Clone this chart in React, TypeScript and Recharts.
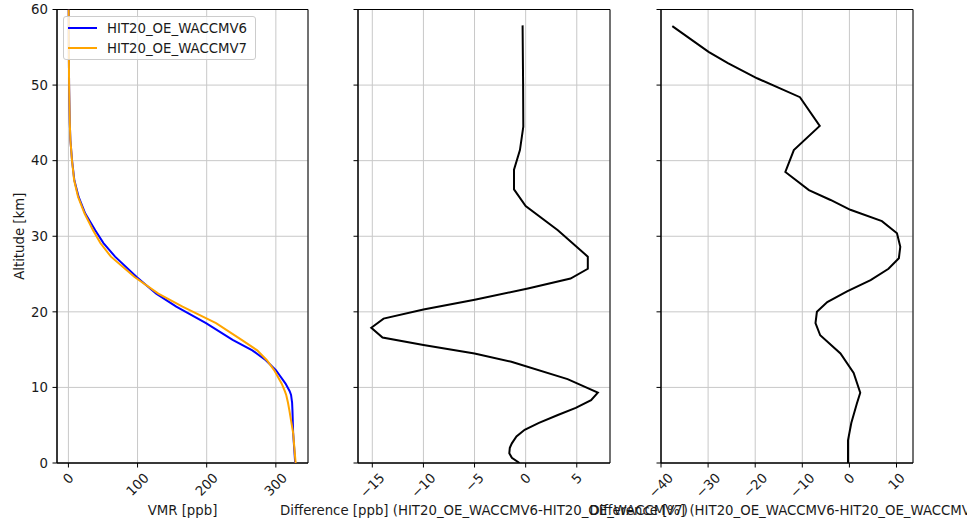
import React from "react";
import {
  ScatterChart,
  Scatter,
  XAxis,
  YAxis,
  CartesianGrid,
  ReferenceArea,
  Legend,
} from "recharts";

const W = 967;
const H = 528;
const PLOT_TOP = 9.5;
const PLOT_BOTTOM = 463;
const Y_AXIS_W = 57;
const FONT = "'DejaVu Sans', sans-serif";
const FS = 13.3;
const TEXT = "#1a1a1a";

const ALT_TICKS = [0, 10, 20, 30, 40, 50, 60];

// VMR profiles [ppb] vs altitude [km]
const vmrAlt = [60, 55, 50, 48, 45, 42.7, 40, 37.4, 35.2, 33, 30.8, 29.1, 27.3, 24.6, 22.4, 20.7, 18.5, 16.3, 14.9, 13.6, 12.3, 10.5, 9.5, 9, 8, 7, 4, 0];
const vmrV6 = [0.4, 0.6, 1.0, 1.4, 2.0, 2.9, 5.3, 8.6, 14.8, 24.4, 38.8, 50.7, 67.5, 98.7, 127, 156, 199, 237.5, 266, 285.5, 300, 314, 320, 322, 323.5, 324, 325, 328];
const vmrV7 = [0.4, 0.6, 1.0, 1.4, 2.0, 2.9, 5.2, 8.3, 14.0, 23.4, 35.6, 46.2, 61.5, 95.7, 130, 165, 213.5, 250.5, 273, 287, 297.5, 308.5, 313, 315, 317.5, 319.5, 325, 328.6];

// absolute difference [ppb]
const diffAlt = [57.9, 50.2, 44.5, 41.4, 38.8, 36.2, 34.0, 30.8, 27.3, 25.7, 24.4, 23.1, 21.6, 20.3, 19.1, 17.9, 16.6, 15.6, 14.5, 13.4, 11.1, 9.3, 8.3, 7.3, 6.35, 5.3, 4.4, 3.5, 2.6, 2.0, 1.3, 0.7, 0];
const diffPpb = [-0.3, -0.25, -0.23, -0.56, -1.14, -1.14, 0, 3.15, 6.08, 6.08, 4.39, 0.22, -4.98, -10.0, -13.9, -15.1, -14.0, -10.0, -5.0, -1.4, 4.1, 7.06, 6.4, 4.9, 3.15, 1.3, -0.1, -0.9, -1.35, -1.55, -1.6, -1.35, -0.6];

// relative difference [%]
const relAlt = [57.8, 54.4, 52.9, 50.9, 48.4, 44.6, 41.4, 38.5, 36.1, 34.8, 33.5, 32.0, 30.4, 28.6, 27.1, 25.7, 24.2, 22.7, 21.3, 20.0, 18.5, 16.9, 14.5, 11.9, 9.3, 7.9, 5.3, 3.0, 0];
const relPct = [-37.6, -29.9, -25.8, -19.6, -10.5, -6.3, -11.8, -13.6, -8.6, -4.0, 0.2, 6.9, 10.1, 10.8, 10.5, 8.3, 4.5, -0.5, -4.7, -6.9, -7.2, -6.2, -1.9, 0.9, 2.3, 1.6, 0.4, -0.3, -0.3];

const toPoints = (xs: number[], alts: number[]) =>
  xs.map((x, i) => ({ x, alt: alts[i] }));

const fmt = (v: number) => (v < 0 ? "\u2212" + Math.abs(v) : String(v));

const charW = (s: string) =>
  s.split("").reduce((a, c) => a + (c === "\u2212" ? 0.838 : 0.636), 0) * FS;

function RotTick(props: any) {
  const { x, y, payload } = props;
  const label = fmt(payload.value);
  const half = (charW(label) + 10) / (2 * Math.SQRT2);
  const cy = y + half;
  return (
    <text
      x={x}
      y={cy}
      textAnchor="middle"
      dominantBaseline="central"
      transform={`rotate(-45 ${x} ${cy})`}
      fontFamily={FONT}
      fontSize={FS}
      fill={TEXT}
    >
      {label}
    </text>
  );
}

function XTitle(props: any) {
  const vb = props.viewBox || props;
  return (
    <text
      x={vb.x + vb.width / 2}
      y={vb.y + vb.height - 13}
      textAnchor="middle"
      fontFamily={FONT}
      fontSize={FS}
      fill={TEXT}
    >
      {props.text}
    </text>
  );
}

function YTitle(props: any) {
  const vb = props.viewBox || props;
  const cx = vb.x + 19;
  const cy = vb.y + vb.height / 2;
  return (
    <text
      x={cx}
      y={cy}
      textAnchor="middle"
      dominantBaseline="central"
      transform={`rotate(-90 ${cx} ${cy})`}
      fontFamily={FONT}
      fontSize={FS}
      fill={TEXT}
    >
      Altitude [km]
    </text>
  );
}

const LEGEND_ITEMS = [
  { name: "HIT20_OE_WACCMV6", color: "#0000ff" },
  { name: "HIT20_OE_WACCMV7", color: "#ffa500" },
];

function LegendBox() {
  return (
    <div
      style={{
        width: 191,
        height: 42,
        border: "1px solid #cccccc",
        borderRadius: 3,
        background: "rgba(255,255,255,0.8)",
        fontFamily: FONT,
        fontSize: FS,
        color: TEXT,
        position: "relative",
      }}
    >
      {LEGEND_ITEMS.map((it, i) => (
        <div
          key={it.name}
          style={{
            position: "absolute",
            left: 4,
            top: 3 + i * 20,
            height: 16,
            display: "flex",
            alignItems: "center",
            whiteSpace: "nowrap",
          }}
        >
          <span
            style={{
              display: "inline-block",
              width: 29,
              height: 2,
              background: it.color,
              marginRight: 10,
            }}
          />
          <span>{it.name}</span>
        </div>
      ))}
    </div>
  );
}

interface Series {
  name: string;
  color: string;
  data: { x: number; alt: number }[];
}

interface PanelProps {
  left: number;
  right: number;
  domain: [number, number];
  ticks: number[];
  xLabel: string;
  showY: boolean;
  series: Series[];
  legend?: boolean;
}

function Panel({ left, right, domain, ticks, xLabel, showY, series, legend }: PanelProps) {
  return (
    <div style={{ position: "absolute", left: 0, top: 0 }}>
      <ScatterChart
        width={W}
        height={H}
        margin={{ top: PLOT_TOP, right: W - right, bottom: 0, left: left - Y_AXIS_W }}
      >
        <CartesianGrid stroke="#c8c8c8" strokeWidth={1} />
        <XAxis
          type="number"
          dataKey="x"
          domain={domain}
          ticks={ticks}
          interval={0}
          allowDataOverflow
          height={H - PLOT_BOTTOM}
          stroke="#000"
          tickSize={4.5}
          tickMargin={4.5}
          tick={<RotTick />}
          label={<XTitle text={xLabel} />}
        />
        <YAxis
          type="number"
          dataKey="alt"
          domain={[0, 60]}
          ticks={ALT_TICKS}
          interval={0}
          allowDataOverflow
          width={Y_AXIS_W}
          stroke="#000"
          tickSize={4.5}
          tickMargin={4.5}
          tick={{ fill: TEXT, fontSize: FS, fontFamily: FONT }}
          tickFormatter={showY ? (v: number) => fmt(v) : () => ""}
          label={showY ? <YTitle /> : undefined}
        />
        <ReferenceArea
          x1={domain[0]}
          x2={domain[1]}
          y1={0}
          y2={60}
          fill="none"
          stroke="#000"
          strokeWidth={1}
          ifOverflow="visible"
        />
        {series.map((s) => (
          <Scatter
            key={s.name}
            name={s.name}
            data={s.data}
            fill={s.color}
            line={{ stroke: s.color, strokeWidth: 2 }}
            lineJointType="linear"
            shape={() => <g />}
            isAnimationActive={false}
          />
        ))}
        {legend && (
          <Legend
            layout="vertical"
            align="center"
            verticalAlign="middle"
            wrapperStyle={{ position: "absolute", left: 63, top: 16, width: 193 }}
            content={() => <LegendBox />}
          />
        )}
      </ScatterChart>
    </div>
  );
}

export default function App() {
  return (
    <div
      style={{
        position: "absolute",
        left: 0,
        top: 0,
        width: W,
        height: H,
        background: "#fff",
        overflow: "hidden",
      }}
    >
      <Panel
        left={57}
        right={308}
        domain={[-16.5, 346.5]}
        ticks={[0, 100, 200, 300]}
        xLabel="VMR [ppb]"
        showY
        legend
        series={[
          { name: "HIT20_OE_WACCMV6", color: "#0000ff", data: toPoints(vmrV6, vmrAlt) },
          { name: "HIT20_OE_WACCMV7", color: "#ffa500", data: toPoints(vmrV7, vmrAlt) },
        ]}
      />
      <Panel
        left={358}
        right={610}
        domain={[-16.4, 8.25]}
        ticks={[-15, -10, -5, 0, 5]}
        xLabel="Difference [ppb] (HIT20_OE_WACCMV6-HIT20_OE_WACCMV7)"
        showY={false}
        series={[{ name: "diff", color: "#000", data: toPoints(diffPpb, diffAlt) }]}
      />
      <Panel
        left={661}
        right={913}
        domain={[-40, 13.5]}
        ticks={[-40, -30, -20, -10, 0, 10]}
        xLabel="Difference [%] (HIT20_OE_WACCMV6-HIT20_OE_WACCMV7)"
        showY={false}
        series={[{ name: "rel", color: "#000", data: toPoints(relPct, relAlt) }]}
      />
    </div>
  );
}
